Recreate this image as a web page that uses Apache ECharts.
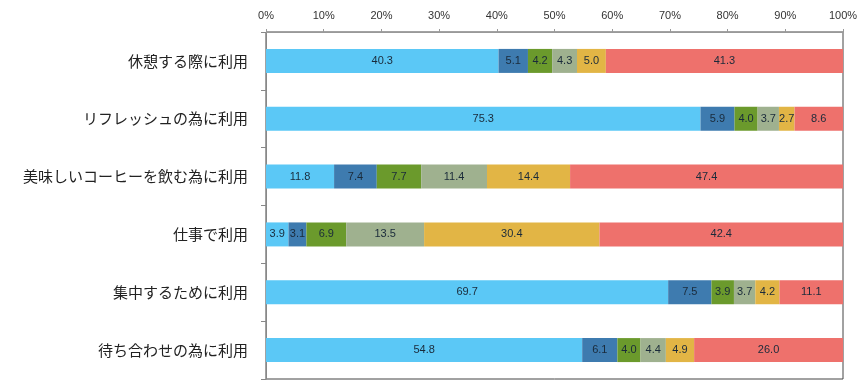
<!DOCTYPE html>
<html><head><meta charset="utf-8">
<script src="https://cdn.jsdelivr.net/npm/echarts@6/dist/echarts.min.js"></script>
<style>html,body{margin:0;padding:0;background:#fff}#c{width:866px;height:386px}</style>
</head><body><div id="c"></div>
<script>
const categories = ['休憩する際に利用','リフレッシュの為に利用','美味しいコーヒーを飲む為に利用','仕事で利用','集中するために利用','待ち合わせの為に利用'];
const s1 = [40.3, 75.3, 11.8, 3.9, 69.7, 54.8];
const s2 = [5.1, 5.9, 7.4, 3.1, 7.5, 6.1];
const s3 = [4.2, 4.0, 7.7, 6.9, 3.9, 4.0];
const s4 = [4.3, 3.7, 11.4, 13.5, 3.7, 4.4];
const s5 = [5.0, 2.7, 14.4, 30.4, 4.2, 4.9];
const s6 = [41.3, 8.6, 47.4, 42.4, 11.1, 26.0];
const tickLabels = ['0%','10%','20%','30%','40%','50%','60%','70%','80%','90%','100%'];
const colors = ['#5BC8F6','#3E7BAF','#6B9A2C','#9FB18F','#E2B545','#EE716C'];
const allSeries = [s1,s2,s3,s4,s5,s6];

const chart = echarts.init(document.getElementById('c'));
chart.setOption({
  animation: false,
  grid: {left: 266, right: 23, top: 32, bottom: 7, show: true, borderColor: '#444', borderWidth: 1, backgroundColor: 'transparent'},
  xAxis: {
    type: 'value', position: 'top', min: 0, max: 100, interval: 10,
    axisLine: {show: true, lineStyle: {color: '#999'}},
    axisTick: {show: true, length: 3, lineStyle: {color: '#999'}},
    splitLine: {show: false},
    axisLabel: {fontSize: 11, color: '#333', margin: 11, fontFamily: 'Liberation Sans',
      formatter: v => tickLabels[Math.round(v/10)]}
  },
  yAxis: {
    type: 'category', inverse: true, data: categories,
    axisLine: {show: true, lineStyle: {color: '#888'}},
    axisTick: {show: true, length: 5, lineStyle: {color: '#888'}},
    axisLabel: {fontSize: 15, color: '#222', margin: 18, fontFamily: 'Noto Sans CJK JP'}
  },
  series: allSeries.map((d, i) => ({
    type: 'bar', stack: 'all', data: d, barWidth: 24,
    itemStyle: {color: colors[i]},
    label: {show: true, position: 'inside', fontSize: 11, color: '#1a2a3a', fontFamily: 'Liberation Sans',
      formatter: p => p.value.toFixed(1)}
  }))
});
</script></body></html>
